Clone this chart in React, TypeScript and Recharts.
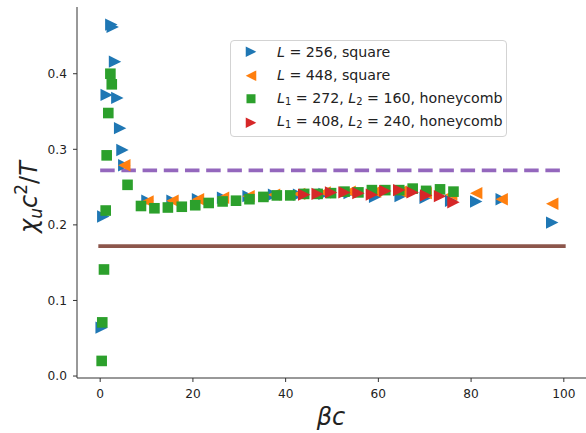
import { ComposedChart, Legend, Line, Scatter, XAxis, YAxis } from "recharts";

// L = 256, square
const BLUE_BETA = [0.32, 0.67, 1.4, 2.4, 2.7, 3.2, 3.7, 4.3, 4.8, 5.2, 10.2, 15.6, 21.1, 26.5, 32.0, 37.5, 42.9, 48.4, 53.8, 59.3, 64.8, 70.2, 75.7, 81.1, 86.6, 97.5];
const BLUE_CHI = [0.064, 0.211, 0.372, 0.465, 0.462, 0.416, 0.368, 0.328, 0.299, 0.279, 0.232, 0.232, 0.234, 0.236, 0.238, 0.24, 0.24, 0.241, 0.242, 0.237, 0.238, 0.236, 0.232, 0.231, 0.234, 0.203];

// L = 448, square
const ORANGE_BETA = [5.2, 10.2, 15.6, 21.1, 26.5, 32.0, 37.5, 42.9, 48.4, 53.8, 59.3, 64.8, 70.2, 75.7, 81.1, 86.6, 97.5];
const ORANGE_CHI = [0.279, 0.231, 0.232, 0.234, 0.236, 0.238, 0.24, 0.241, 0.243, 0.244, 0.244, 0.244, 0.242, 0.24, 0.242, 0.234, 0.228];

// L1 = 272, L2 = 160, honeycomb
const GREEN_BETA = [0.32, 0.45, 0.82, 1.19, 1.4, 1.75, 2.2, 2.5, 5.9, 8.8, 11.7, 14.6, 17.6, 20.5, 23.4, 26.4, 29.3, 32.2, 35.2, 38.1, 41.0, 44.0, 46.9, 49.8, 52.7, 55.7, 58.6, 61.5, 64.5, 67.4, 70.3, 73.3, 76.2];
const GREEN_CHI = [0.02, 0.071, 0.141, 0.219, 0.292, 0.348, 0.4, 0.386, 0.253, 0.225, 0.222, 0.223, 0.224, 0.226, 0.229, 0.231, 0.232, 0.234, 0.237, 0.239, 0.239, 0.241, 0.241, 0.242, 0.244, 0.243, 0.246, 0.246, 0.246, 0.248, 0.245, 0.247, 0.244];

// L1 = 408, L2 = 240, honeycomb
const RED_BETA = [44.0, 46.9, 49.8, 52.7, 55.7, 58.6, 61.5, 64.5, 67.4, 70.3, 73.3, 76.2];
const RED_CHI = [0.24, 0.241, 0.243, 0.243, 0.242, 0.24, 0.245, 0.246, 0.243, 0.239, 0.238, 0.23];

// reference levels
const LEVEL_BETA = [0, 100];
const UPPER_LEVEL = [0.272, 0.272];
const LOWER_LEVEL = [0.172, 0.172];

const X_TICKS = [0, 20, 40, 60, 80, 100];
const Y_TICKS = [0, 0.1, 0.2, 0.3, 0.4];

const FONT = "DejaVu Sans";
const INK = "#222";
const SPINE = "#333";

const toPoints = (xs: number[], ys: number[]) => xs.map((x, i) => ({ x, y: ys[i] }));

type ShapeProps = { cx?: number; cy?: number };

function triRight(cx: number, cy: number, r: number, fill: string) {
  return <path d={`M${cx + r},${cy} L${cx - r},${cy - r} L${cx - r},${cy + r} Z`} fill={fill} />;
}

function triLeft(cx: number, cy: number, r: number, fill: string) {
  return <path d={`M${cx - r},${cy} L${cx + r},${cy - r} L${cx + r},${cy + r} Z`} fill={fill} />;
}

function square(cx: number, cy: number, h: number, fill: string) {
  return <rect x={cx - h} y={cy - h} width={h * 2} height={h * 2} fill={fill} />;
}

const SERIES = [
  { key: "l256", color: "#1f77b4", kind: "right", points: toPoints(BLUE_BETA, BLUE_CHI), label: <><i>L</i> = 256, square</> },
  { key: "l448", color: "#ff7f0e", kind: "left", points: toPoints(ORANGE_BETA, ORANGE_CHI), label: <><i>L</i> = 448, square</> },
  {
    key: "h272",
    color: "#2ca02c",
    kind: "square",
    points: toPoints(GREEN_BETA, GREEN_CHI),
    label: <><i>L</i><Sub>1</Sub> = 272, <i>L</i><Sub>2</Sub> = 160, honeycomb</>,
  },
  {
    key: "h408",
    color: "#d62728",
    kind: "right",
    points: toPoints(RED_BETA, RED_CHI),
    label: <><i>L</i><Sub>1</Sub> = 408, <i>L</i><Sub>2</Sub> = 240, honeycomb</>,
  },
];

function Sub({ children }: { children: React.ReactNode }) {
  return <span style={{ fontSize: "70%", verticalAlign: "-0.22em" }}>{children}</span>;
}

function marker(kind: string, cx: number, cy: number, fill: string, scale = 1) {
  if (kind === "left") return triLeft(cx, cy, 6.2 * scale, fill);
  if (kind === "square") return square(cx, cy, 5.3 * scale, fill);
  return triRight(cx, cy, 6.2 * scale, fill);
}

function LegendBox() {
  return (
    <div
      style={{
        boxSizing: "border-box",
        width: 277,
        height: 97,
        border: "1px solid #d3d3d3",
        borderRadius: 4,
        background: "rgba(255,255,255,0.8)",
        fontFamily: FONT,
        fontSize: 14.2,
        color: INK,
        lineHeight: 1,
      }}
    >
      <div style={{ marginTop: -1 }}>
        {SERIES.map((s) => (
          <div key={s.key} style={{ height: 23.5, display: "flex", alignItems: "center", whiteSpace: "nowrap" }}>
            <svg width={46} height={23.5} style={{ flex: "none" }}>
              {marker(s.kind, 20, 11.75, s.color, 0.85)}
            </svg>
            <span>{s.label}</span>
          </div>
        ))}
      </div>
    </div>
  );
}

function YLabel() {
  const x = 36.5;
  const y = 197;
  return (
    <text transform={`rotate(-90 ${x} ${y})`} x={x} y={y} textAnchor="middle" fontFamily={FONT} fontSize={24} fill={INK}>
      <tspan fontStyle="italic">χ</tspan>
      <tspan fontStyle="italic" fontSize={17} dy={5}>u</tspan>
      <tspan fontStyle="italic" dy={-5}>c</tspan>
      <tspan fontSize={17} dy={-10}>2</tspan>
      <tspan dy={10}>/</tspan>
      <tspan fontStyle="italic">T</tspan>
    </text>
  );
}

function XLabel() {
  return (
    <text x={331} y={425} textAnchor="middle" fontFamily={FONT} fontSize={24} fontStyle="italic" fill={INK}>
      βc
    </text>
  );
}

export default function App() {
  const tick = { fontSize: 12.2, fill: INK, fontFamily: FONT };
  return (
    <div style={{ width: 586, height: 433, overflow: "hidden", position: "relative", background: "#fff" }}>
      <style>{"body{margin:0}"}</style>
      <ComposedChart width={587} height={433} margin={{ top: 7, right: 0, bottom: 0, left: 0 }}>
        <XAxis
          dataKey="x"
          type="number"
          domain={[-5, 105]}
          ticks={X_TICKS}
          allowDataOverflow
          height={55}
          tickSize={4}
          tickMargin={7}
          tick={tick}
          axisLine={{ stroke: SPINE }}
          tickLine={{ stroke: SPINE }}
          label={<XLabel />}
        />
        <XAxis xAxisId="top" orientation="top" type="number" domain={[-5, 105]} allowDataOverflow height={0} tick={false} tickLine={false} axisLine={{ stroke: SPINE }} />
        <YAxis
          dataKey="y"
          type="number"
          domain={[-0.0026, 0.4883]}
          ticks={Y_TICKS}
          allowDataOverflow
          width={77}
          tickSize={4}
          tickMargin={6}
          tick={tick}
          tickFormatter={(v: number) => v.toFixed(1)}
          axisLine={{ stroke: SPINE }}
          tickLine={{ stroke: SPINE }}
          label={<YLabel />}
        />
        <Line
          data={toPoints(LEVEL_BETA, UPPER_LEVEL)}
          dataKey="y"
          stroke="#9467bd"
          strokeWidth={3.7}
          strokeDasharray="14.5 6.7"
          dot={false}
          activeDot={false}
          isAnimationActive={false}
        />
        <Line
          data={toPoints(LEVEL_BETA, LOWER_LEVEL)}
          dataKey="y"
          stroke="#8c564b"
          strokeWidth={3.7}
          strokeLinecap="square"
          dot={false}
          activeDot={false}
          isAnimationActive={false}
        />
        {SERIES.map((s) => (
          <Scatter
            key={s.key}
            data={s.points}
            dataKey="y"
            fill={s.color}
            isAnimationActive={false}
            shape={(p: ShapeProps) => marker(s.kind, p.cx ?? 0, p.cy ?? 0, s.color)}
          />
        ))}
        <Legend
          layout="vertical"
          verticalAlign="middle"
          align="center"
          wrapperStyle={{ left: 230, top: 40, width: 277, height: 97 }}
          content={() => <LegendBox />}
        />
      </ComposedChart>
    </div>
  );
}
